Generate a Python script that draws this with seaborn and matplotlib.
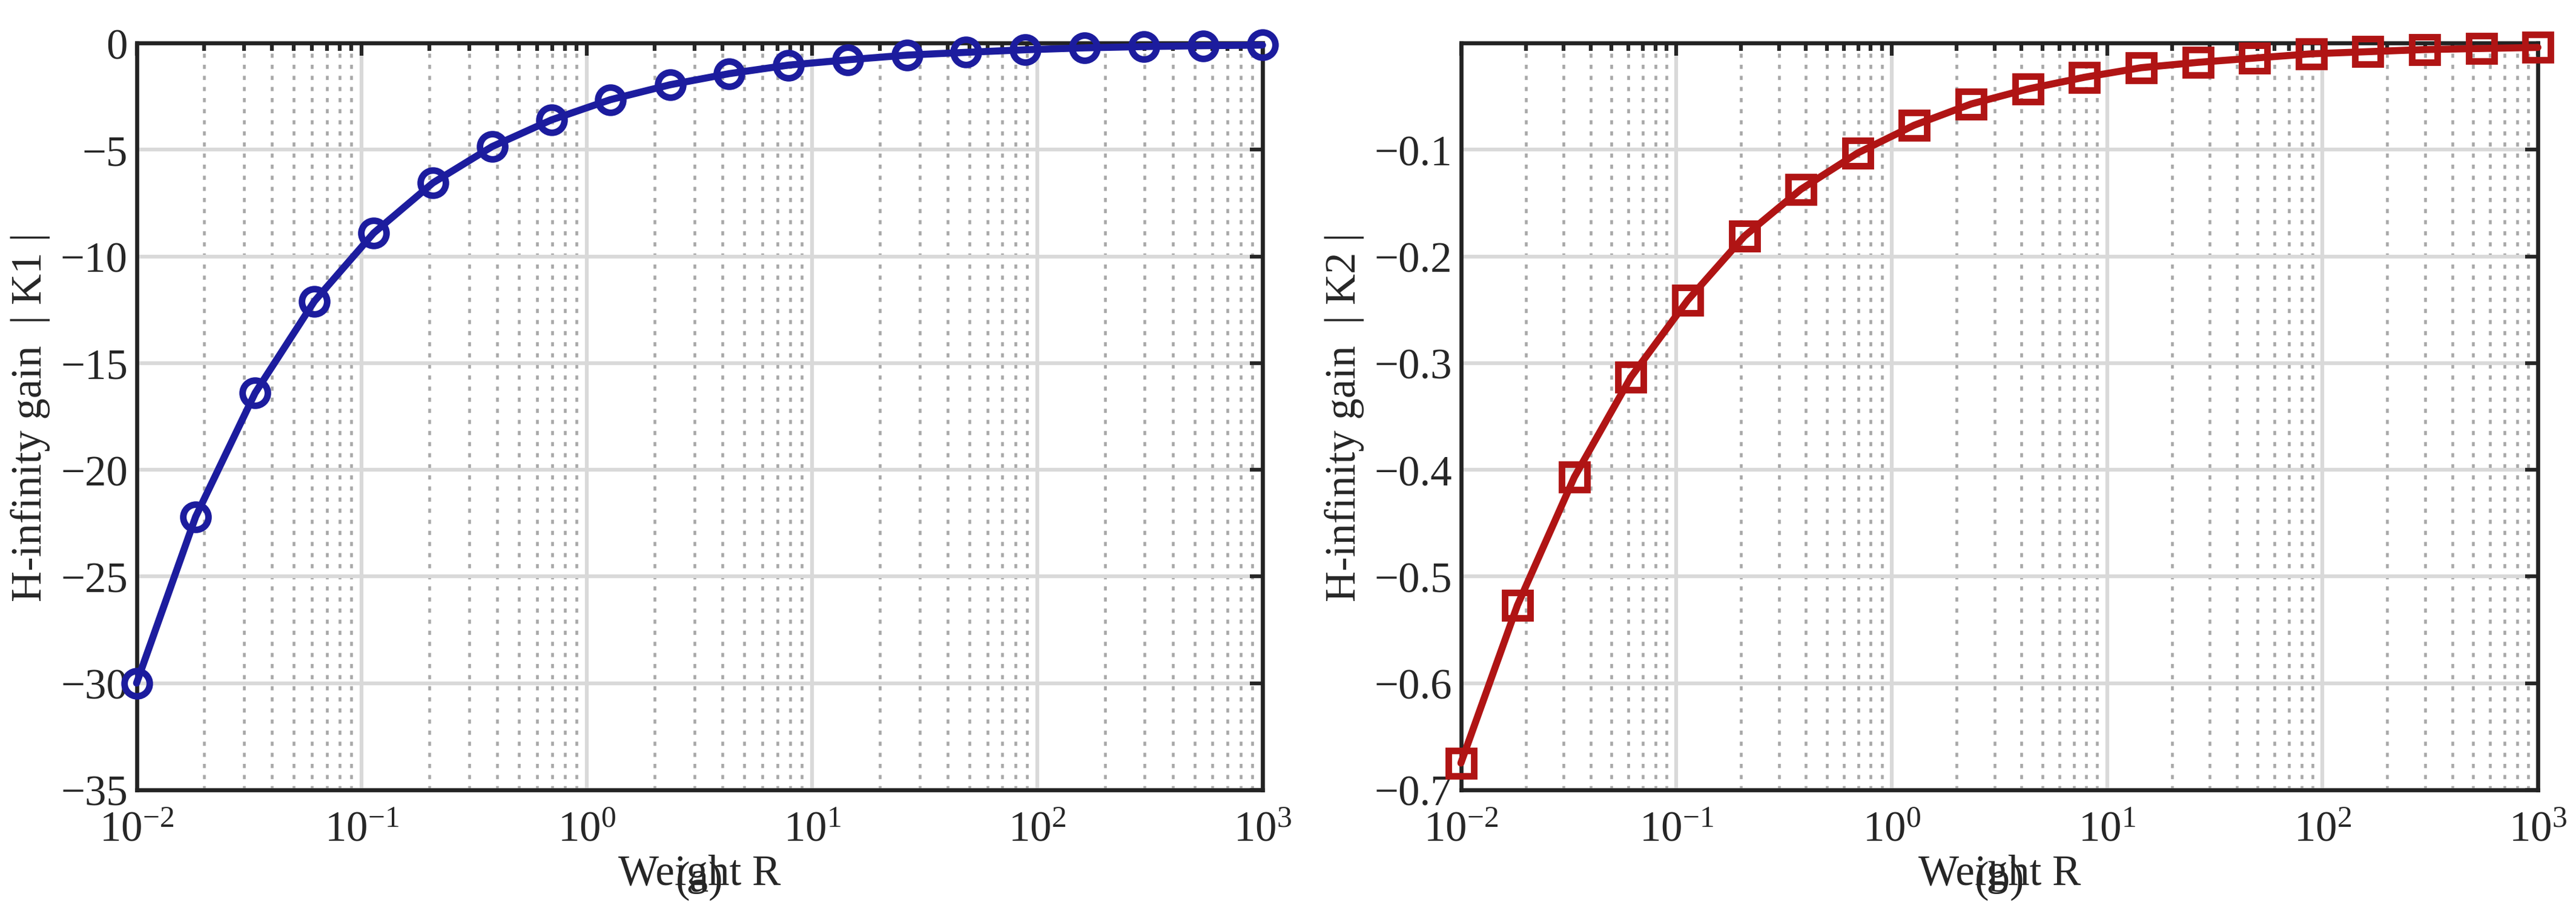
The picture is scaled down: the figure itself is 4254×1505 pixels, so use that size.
import matplotlib
matplotlib.use("Agg")
import matplotlib.pyplot as plt
import numpy as np
import pandas as pd
import seaborn as sns

# weight values (20 points, log spaced from 1e-2 to 1e3)
weight_r = [0.01, 0.0183, 0.0336, 0.0616, 0.113, 0.207, 0.379, 0.695, 1.27, 2.34,
            4.28, 7.85, 14.4, 26.4, 48.3, 88.6, 162, 298, 546, 1000]
gain_k1 = [-30.0, -22.2, -16.4, -12.1, -8.9, -6.55, -4.85, -3.6, -2.65, -1.95,
           -1.43, -1.03, -0.78, -0.56, -0.43, -0.31, -0.22, -0.16, -0.12, -0.09]
gain_k2 = [-0.675, -0.527, -0.407, -0.313, -0.241, -0.181, -0.137, -0.103, -0.077, -0.057,
           -0.043, -0.032, -0.023, -0.018, -0.014, -0.010, -0.008, -0.006, -0.005, -0.004]

df = pd.DataFrame({"R": weight_r, "K1": gain_k1, "K2": gain_k2})

sns.set_style("white")
plt.rcParams["font.family"] = ["Liberation Serif", "DejaVu Serif"]
plt.rcParams["mathtext.fontset"] = "stix"

fig = plt.figure(figsize=(14.183, 5.02), dpi=300)
ax1 = fig.add_axes([0.053, 0.133, 0.437, 0.819])
ax2 = fig.add_axes([0.567, 0.133, 0.418, 0.819])

specs = [
    (ax1, "K1", "#1c1c9e", "o", "H-infinity gain  | K1 |", (-35, 0), np.arange(-35, 1, 5), "(a)"),
    (ax2, "K2", "#b01414", "s", "H-infinity gain  | K2 |", (-0.7, 0), np.arange(-0.7, -0.05, 0.1), "(b)"),
]

for ax, col, color, mk, ylab, ylim, yt, tag in specs:
    sns.lineplot(data=df, x="R", y=col, ax=ax, color=color, lw=2.8, marker=mk,
                 markersize=10, markerfacecolor="none", markeredgecolor=color,
                 markeredgewidth=2.6, clip_on=False, zorder=5)
    ax.set_xscale("log")
    ax.set_xlim(0.01, 1000)
    ax.set_ylim(*ylim)
    ax.set_yticks(yt)
    if col == "K1":
        ax.set_yticklabels([f"\u2212{abs(v)}" if v < 0 else "0" for v in yt])
    else:
        ax.set_yticklabels([f"\u2212{abs(v):.1f}" for v in yt])
    ax.grid(True, which="major", color="#d9d9d9", lw=1.5, ls="-")
    ax.grid(True, which="minor", color="#a8a8a8", lw=1.1, ls=(0, (1.5, 2.5)))
    ax.tick_params(which="both", direction="in", top=True, right=True, labelsize=17,
                   width=1.5, length=5)
    ax.tick_params(axis="x", which="major", pad=8)
    ax.tick_params(which="minor", length=3)
    for s in ax.spines.values():
        s.set_linewidth(1.6)
        s.set_color("#222222")
    ax.set_xlabel("Weight R", fontsize=17, labelpad=2)
    ax.set_ylabel(ylab, fontsize=17, labelpad=4)
    pos = ax.get_position()
    fig.text((pos.x0 + pos.x1) / 2, 0.012, tag, ha="center", va="bottom", fontsize=17)

fig.savefig("out.png", dpi=300)
